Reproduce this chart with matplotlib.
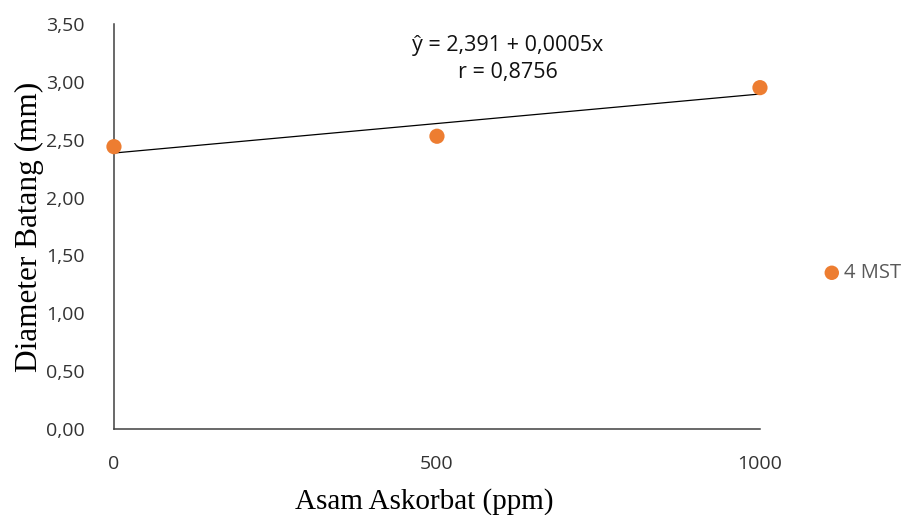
import numpy as np
import matplotlib.pyplot as plt

# data
dosis = [0, 500, 1000]          # Asam Askorbat (ppm)
diameter = [2.44, 2.53, 2.95]   # Diameter Batang (mm), 4 MST
y_ticks = [0.0, 0.5, 1.0, 1.5, 2.0, 2.5, 3.0, 3.5]
x_ticks = [0, 500, 1000]
eq_text = "ŷ = 2,391 + 0,0005x"
r_text = "r = 0,8756"
series_name = "4 MST"

ORANGE = "#ED7D31"
SANS = ["Open Sans", "DejaVu Sans"]
SERIF = "Liberation Serif"

fig = plt.figure(figsize=(9.03, 5.15), dpi=100)
ax = fig.add_axes([0.1262, 0.167, 0.7154, 0.7864])

# linear trendline fitted to the points
b, a = np.polyfit(dosis, diameter, 1)
xs = np.array([min(dosis), max(dosis)])
ax.plot(xs, a + b * xs, color="black", lw=0.9, zorder=2)

ax.scatter(dosis, diameter, s=120, color=ORANGE, zorder=3, clip_on=False,
           label=series_name, edgecolors="none")

ax.set_xlim(0, 1000)
ax.set_ylim(0, 3.5)
ax.set_xticks(x_ticks)
ax.set_xticklabels([str(v) for v in x_ticks], family=SANS, fontsize=14, color="#333333")
ax.set_yticks(y_ticks)
ax.set_yticklabels([f"{v:.2f}".replace(".", ",") for v in y_ticks],
                   family=SANS, fontsize=14, color="#333333")
ax.tick_params(axis="both", length=0)
ax.tick_params(axis="y", pad=21)
ax.tick_params(axis="x", pad=19)

for side in ["top", "right"]:
    ax.spines[side].set_visible(False)
for side in ["left", "bottom"]:
    ax.spines[side].set_color("#404040")
    ax.spines[side].set_linewidth(1.1)

ax.set_xlabel("Asam Askorbat (ppm)", family=SERIF, fontsize=21)
ax.xaxis.set_label_coords(0.481, -0.145)
ax.set_ylabel("Diameter Batang (mm)", family=SERIF, fontsize=22.5)
ax.yaxis.set_label_coords(-0.108, 0.5)

ax.text(0.61, 0.9136, eq_text + "\n" + r_text, transform=ax.transAxes,
        ha="center", va="center", family=SANS, fontsize=15.5,
        linespacing=1.35, color="#111111")

leg = ax.legend(loc="center left", bbox_to_anchor=(1.08, 0.385), frameon=False,
                handletextpad=0.0, handlelength=1.2, markerscale=0.95,
                borderaxespad=0, prop={"family": SANS, "size": 14.5})
for t in leg.get_texts():
    t.set_color("#595959")

fig.savefig("out.png", dpi=100)
